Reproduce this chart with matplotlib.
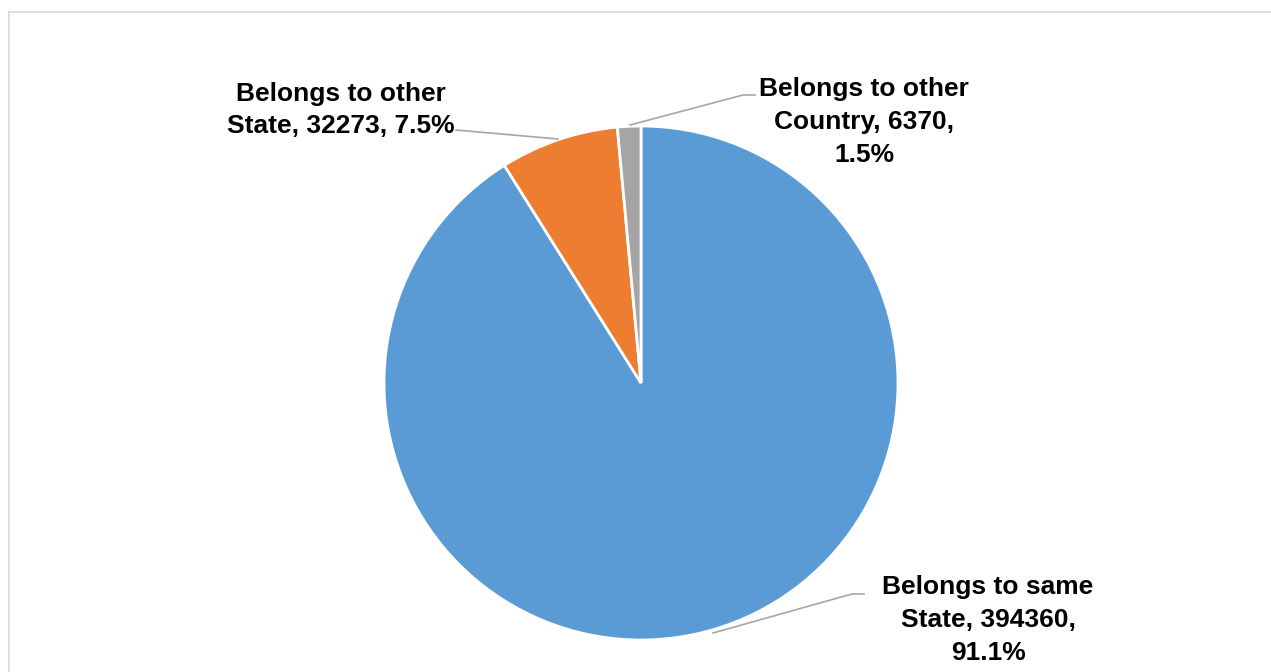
import matplotlib
matplotlib.use("Agg")
import matplotlib.pyplot as plt
from matplotlib.lines import Line2D

categories = ["Belongs to same State", "Belongs to other State", "Belongs to other Country"]
values = [394360, 32273, 6370]
percents = ["91.1%", "7.5%", "1.5%"]
colors = ["#5B9BD5", "#ED7D31", "#A5A5A5"]

W, H = 1271, 672
fig = plt.figure(figsize=(W / 100, H / 100), dpi=100)
ax = fig.add_axes([0, 0, 1, 1])

def Y(y):
    return H - y

ax.pie(values, colors=colors, startangle=90, counterclock=False,
       center=(641, Y(383)), radius=257, frame=True,
       wedgeprops=dict(edgecolor="white", linewidth=2.0))
ax.set_xlim(0, W)
ax.set_ylim(0, H)
ax.axis("off")
ax.set_aspect("auto")

# frame (partially visible)
ax.add_line(Line2D([9, W], [Y(12), Y(12)], color="#D9D9D9", lw=1.2))
ax.add_line(Line2D([9, 9], [Y(12), 0], color="#D9D9D9", lw=1.2))

font = dict(family="Liberation Sans", weight="bold", fontsize=19, color="black",
            ha="center", va="center", linespacing=1.45)

lbl = [
    "Belongs to same\nState, {},\n{}".format(values[0], percents[0]),
    "Belongs to other\nState, {}, {}".format(values[1], percents[1]),
    "Belongs to other\nCountry, {},\n{}".format(values[2], percents[2]),
]
ax.text(988, Y(620), lbl[0], **font)
ax.text(341, Y(110), lbl[1], **font)
ax.text(864, Y(122), lbl[2], **font)

lc = dict(color="#A6A6A6", lw=1.2)
ax.add_line(Line2D([713, 852, 864], [Y(633), Y(594), Y(594)], **lc))
ax.add_line(Line2D([456, 558], [Y(130), Y(139)], **lc))
ax.add_line(Line2D([630, 743, 755], [Y(125), Y(95), Y(95)], **lc))

fig.savefig("out.png", dpi=100, facecolor="white")
